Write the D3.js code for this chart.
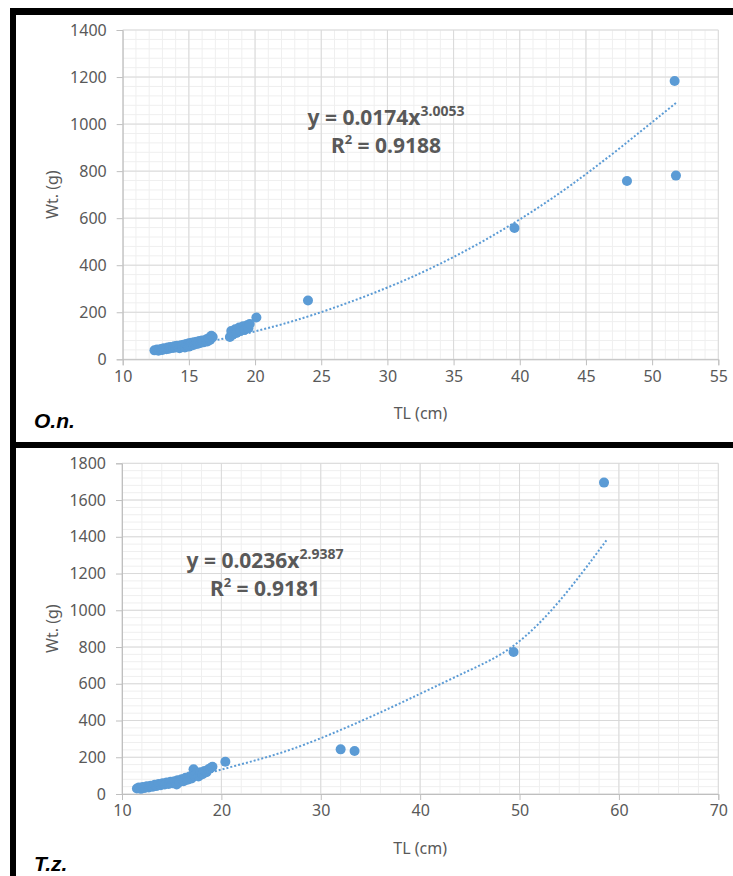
<!DOCTYPE html>
<html>
<head>
<meta charset="utf-8">
<script src="https://cdn.jsdelivr.net/npm/d3@7"></script>
<style>
  body { margin: 0; background: #fff; }
  svg { display: block; }
  .tick text { font-family: "Noto Sans", "Open Sans", sans-serif; fill: #595959; }
</style>
</head>
<body>
<svg id="chart" width="733" height="876"></svg>
<script>
// O.n. panel (top)
var onTL = [12.4,12.6,12.7,12.9,13.0,13.1,13.3,13.4,13.5,13.6,13.8,13.9,14.0,14.1,14.2,14.3,14.4,14.5,14.6,14.7,14.8,14.9,15.0,15.0,15.1,15.2,15.3,15.4,15.5,15.6,15.7,15.8,15.9,16.0,16.1,16.3,16.4,16.5,16.6,16.7,16.8,
            18.1,18.2,18.3,18.5,18.6,18.8,18.9,19.1,19.2,19.4,19.5,19.6,20.1,24.0,39.6,48.1,51.7,51.8];
var onWt = [38,42,36,44,40,47,43,50,45,52,48,55,50,58,53,47,60,55,62,50,65,58,68,54,62,70,60,72,64,75,66,78,70,80,72,84,76,90,82,100,95,
            95,120,105,128,112,135,120,140,125,145,132,150,178,250,558,758,1183,781];
var onTrendX = [12.4, 15, 17, 20, 24, 30, 35, 40, 45, 51.8];
var onTrendY = [37, 59, 80, 117, 178, 300, 430, 590, 780, 1090];

// T.z. panel (bottom)
var tzTL = [11.5,11.7,11.9,12.1,12.3,12.5,12.7,12.9,13.1,13.3,13.5,13.7,13.9,14.1,14.3,14.5,14.7,14.9,15.1,15.3,15.5,15.6,15.8,16.0,16.2,16.4,16.6,16.8,17.0,17.2,17.3,17.5,17.7,17.9,18.1,18.3,18.5,18.7,18.9,19.1,
            20.4,32.0,33.4,49.4,58.5];
var tzWt = [30,35,28,38,33,42,36,45,40,50,44,55,48,58,52,62,55,66,58,70,52,75,65,80,70,88,78,95,85,135,100,110,95,118,108,125,118,135,140,148,
            176,243,234,773,1695];
var tzTrendX = [11.5, 15, 19.2, 24, 28, 34.3, 40, 45, 49.4, 54, 58.8];
var tzTrendY = [28, 62, 122, 190, 257, 400, 545, 675, 785, 1035, 1385];

var panels = [
  { tl: onTL, wt: onWt, tx: onTrendX, ty: onTrendY,
    xd: [10, 55], xr: [122.7, 718.3], xStep: 5, yd: [0, 1400], yr: [359.3, 30], yStep: 200,
    eq: ["0.0174", "3.0053", "0.9188"], eqX: 386, eqY: 125, name: "O.n.", nameY: 428 },
  { tl: tzTL, wt: tzWt, tx: tzTrendX, ty: tzTrendY,
    xd: [10, 70], xr: [122, 718.3], xStep: 10, yd: [0, 1800], yr: [794, 463.3], yStep: 200,
    eq: ["0.0236", "2.9387", "0.9181"], eqX: 265, eqY: 568, name: "T.z.", nameY: 871 }
];

var svg = d3.select("svg");
var blue = "#5b9bd5";

// black frame lines of the two pasted pictures
svg.append("rect").attr("x", 10).attr("y", 8).attr("width", 723).attr("height", 7).attr("fill", "#000");
svg.append("rect").attr("x", 10).attr("y", 8).attr("width", 6).attr("height", 868).attr("fill", "#000");
svg.append("rect").attr("x", 10).attr("y", 442).attr("width", 723).attr("height", 6).attr("fill", "#000");

panels.forEach(function(p) {
    var x = d3.scaleLinear().domain(p.xd).range(p.xr);
    var y = d3.scaleLinear().domain(p.yd).range(p.yr);
    var g = svg.append("g");

    var xMajor = d3.range(p.xd[0], p.xd[1] + 0.001, p.xStep);
    var yMajor = d3.range(p.yd[0], p.yd[1] + 0.001, p.yStep);
    var xMinor = d3.range(p.xd[0], p.xd[1] + 0.001, p.xStep / 5);
    var yMinor = d3.range(p.yd[0], p.yd[1] + 0.001, p.yStep / 5);

    // minor grid
    g.append("g").selectAll("line").data(xMinor).enter().append("line")
        .attr("x1", function(d) { return x(d); }).attr("x2", function(d) { return x(d); })
        .attr("y1", p.yr[0]).attr("y2", p.yr[1])
        .attr("stroke", "#efefef").attr("stroke-width", 1);
    g.append("g").selectAll("line").data(yMinor).enter().append("line")
        .attr("y1", function(d) { return y(d); }).attr("y2", function(d) { return y(d); })
        .attr("x1", p.xr[0]).attr("x2", p.xr[1])
        .attr("stroke", "#efefef").attr("stroke-width", 1);
    // major grid
    g.append("g").selectAll("line").data(xMajor).enter().append("line")
        .attr("x1", function(d) { return x(d); }).attr("x2", function(d) { return x(d); })
        .attr("y1", p.yr[0]).attr("y2", p.yr[1])
        .attr("stroke", "#d9d9d9").attr("stroke-width", 1);
    g.append("g").selectAll("line").data(yMajor).enter().append("line")
        .attr("y1", function(d) { return y(d); }).attr("y2", function(d) { return y(d); })
        .attr("x1", p.xr[0]).attr("x2", p.xr[1])
        .attr("stroke", "#d9d9d9").attr("stroke-width", 1);

    // axes
    var xAxis = g.append("g").attr("transform", "translate(0," + p.yr[0] + ")")
        .call(d3.axisBottom(x).tickValues(xMajor).tickSize(6).tickPadding(5).tickFormat(d3.format("d")));
    var yAxis = g.append("g").attr("transform", "translate(" + p.xr[0] + ",0)")
        .call(d3.axisLeft(y).tickValues(yMajor).tickSize(6).tickPadding(10).tickFormat(d3.format("d")));
    [xAxis, yAxis].forEach(function(a) {
        a.selectAll("path, line").attr("stroke", "#bfbfbf");
        a.selectAll("text").style("font-size", "16px");
    });

    // axis titles
    g.append("text")
        .attr("x", (p.xr[0] + p.xr[1]) / 2).attr("y", p.yr[0] + 60)
        .attr("text-anchor", "middle")
        .style("font-family", "'Noto Sans', sans-serif").style("font-size", "16px").attr("fill", "#595959")
        .text("TL (cm)");
    g.append("text")
        .attr("transform", "translate(58," + (p.yr[0] + p.yr[1]) / 2 + ") rotate(-90)")
        .attr("text-anchor", "middle")
        .style("font-family", "'Noto Sans', sans-serif").style("font-size", "16px").attr("fill", "#595959")
        .text("Wt. (g)");

    // points
    g.append("g").selectAll("circle").data(p.tl).enter().append("circle")
        .attr("cx", function(d) { return x(d); })
        .attr("cy", function(d, i) { return y(p.wt[i]); })
        .attr("r", 5)
        .attr("fill", blue);

    // power trendline (dotted)
    var line = d3.line()
        .x(function(d) { return x(d); })
        .y(function(d, i) { return y(p.ty[i]); })
        .curve(d3.curveBasis);
    g.append("path").datum(p.tx)
        .attr("d", line)
        .attr("fill", "none")
        .attr("stroke", blue)
        .attr("stroke-width", 2)
        .attr("stroke-dasharray", "2,2");

    // equation
    var eq1 = g.append("text").attr("x", p.eqX).attr("y", p.eqY).attr("text-anchor", "middle")
        .style("font-family", "'Noto Sans', sans-serif").style("font-weight", "bold")
        .style("font-size", "21px").attr("fill", "#595959");
    eq1.append("tspan").text("y = " + p.eq[0] + "x");
    eq1.append("tspan").attr("dy", -9).style("font-size", "14px").text(p.eq[1]);
    var eq2 = g.append("text").attr("x", p.eqX).attr("y", p.eqY + 28).attr("text-anchor", "middle")
        .style("font-family", "'Noto Sans', sans-serif").style("font-weight", "bold")
        .style("font-size", "21px").attr("fill", "#595959");
    eq2.append("tspan").text("R");
    eq2.append("tspan").attr("dy", -9).style("font-size", "13px").text("2");
    eq2.append("tspan").attr("dy", 9).text(" = " + p.eq[2]);

    // species label
    g.append("text").attr("x", 34).attr("y", p.nameY)
        .style("font-family", "'Liberation Sans', sans-serif").style("font-weight", "bold")
        .style("font-style", "italic").style("font-size", "21px").attr("fill", "#000")
        .text(p.name);
});
</script>
</body>
</html>
